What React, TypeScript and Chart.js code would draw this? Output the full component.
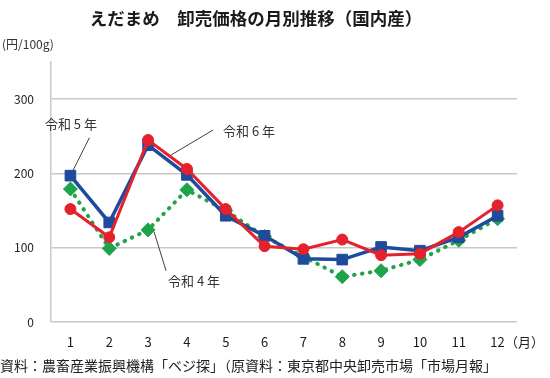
import React, { useEffect, useRef } from "react";
import { Chart, registerables } from "chart.js";

Chart.register(...registerables);

const TITLE = "えだまめ　卸売価格の月別推移（国内産）";
const UNIT = "(円/100g)";
const X_UNIT = "（月）";
const SOURCE = "資料：農畜産業振興機構「ベジ探」（原資料：東京都中央卸売市場「市場月報」";

const months = ["1", "2", "3", "4", "5", "6", "7", "8", "9", "10", "11", "12"];
const r6Label = "令和 6 年";
const r5Label = "令和 5 年";
const r4Label = "令和 4 年";
const r6 = [152, 114, 245, 206, 152, 102, 98, 111, 90, 92, 121, 157];
const r5 = [197, 134, 238, 198, 143, 116, 85, 84, 101, 96, 114, 143];
const r4 = [179, 99, 124, 178, 150, 115, 88, 61, 69, 84, 110, 139];

const FONT = '"Noto Sans CJK JP", "Noto Sans", sans-serif';

const overlay = {
  id: "overlay",
  afterDraw(chart: any) {
    const ctx = chart.ctx;
    const xs = chart.scales.x;
    const ys = chart.scales.y;
    ctx.save();
    ctx.fillStyle = "#1a1a1a";
    ctx.font = `bold 17.5px ${FONT}`;
    ctx.textAlign = "center";
    ctx.textBaseline = "middle";
    ctx.fillText(TITLE, 256, 18);

    ctx.fillStyle = "#333";
    ctx.font = `12px ${FONT}`;
    ctx.textAlign = "left";
    ctx.fillText(UNIT, 2, 44);

    ctx.fillStyle = "#222";
    ctx.font = `13px ${FONT}`;
    ctx.fillText(X_UNIT, 505, 342);

    ctx.font = `14px ${FONT}`;
    ctx.fillText(SOURCE, 0, 366);

    // annotations
    ctx.strokeStyle = "#404040";
    ctx.lineWidth = 1;
    ctx.fillStyle = "#333";
    ctx.font = `13px ${FONT}`;

    // 令和5年 -> month 1 of r5
    let px = xs.getPixelForValue(0);
    let py = ys.getPixelForValue(r5[0]);
    ctx.beginPath();
    ctx.moveTo(px + 2, py - 4);
    ctx.lineTo(px + 19, py - 38);
    ctx.stroke();
    ctx.textAlign = "center";
    ctx.fillText(r5Label, px + 0.5, py - 52);

    // 令和6年 -> segment after month 3 of r6
    px = xs.getPixelForValue(2);
    py = ys.getPixelForValue(r6[2]);
    ctx.beginPath();
    ctx.moveTo(px + 23, py + 15);
    ctx.lineTo(px + 65, py - 10);
    ctx.stroke();
    ctx.textAlign = "left";
    ctx.fillText(r6Label, px + 75, py - 9);

    // 令和4年 -> month 3 of r4
    px = xs.getPixelForValue(2);
    py = ys.getPixelForValue(r4[2]);
    ctx.beginPath();
    ctx.moveTo(px + 6, py + 2);
    ctx.lineTo(px + 18, py + 41);
    ctx.stroke();
    ctx.fillText(r4Label, px + 20, py + 51);

    ctx.restore();
  },
};

export default function App() {
  const ref = useRef<HTMLCanvasElement | null>(null);
  useEffect(() => {
    document.body.style.margin = "0";
    const canvas = ref.current!;
    const chart = new Chart(canvas, {
      type: "line",
      data: {
        labels: months,
        datasets: [
          {
            label: r6Label,
            data: r6,
            borderColor: "#e5212b",
            backgroundColor: "#e5212b",
            borderWidth: 3,
            pointStyle: "circle",
            pointRadius: 5.5,
            pointBorderWidth: 1,
            pointBackgroundColor: "#e5212b",
            pointBorderColor: "#e5212b",
            tension: 0,
          },
          {
            label: r5Label,
            data: r5,
            borderColor: "#1f4b9c",
            backgroundColor: "#1f4b9c",
            borderWidth: 3.5,
            pointStyle: "rect",
            pointRadius: 7.5,
            pointBorderWidth: 1,
            pointBackgroundColor: "#1f4b9c",
            pointBorderColor: "#1f4b9c",
            tension: 0,
          },
          {
            label: r4Label,
            data: r4,
            borderColor: "#1ea34a",
            backgroundColor: "#1ea34a",
            borderWidth: 4,
            borderDash: [0.5, 7.5],
            borderCapStyle: "round",
            pointStyle: "rectRot",
            pointRadius: 7,
            pointBorderWidth: 1,
            pointBackgroundColor: "#1ea34a",
            pointBorderColor: "#1ea34a",
            tension: 0,
          },
        ],
      },
      options: {
        responsive: false,
        animation: false,
        devicePixelRatio: 1,
        layout: { padding: { top: 62, right: 33, left: 0, bottom: 0 } },
        plugins: {
          legend: { display: false },
          tooltip: { enabled: false },
          title: { display: false },
        },
        scales: {
          x: {
            offset: true,
            grid: { display: false, drawTicks: false },
            border: { display: false },
            ticks: {
              color: "#1a1a1a",
              padding: 12,
              maxRotation: 0,
              autoSkip: false,
              font: { family: FONT, size: 13 },
            },
            afterFit: (s: any) => {
              s.height = 56;
            },
          },
          y: {
            min: 0,
            max: 350,
            grid: { color: "#c8c8c8", lineWidth: 1.5, drawTicks: false },
            border: { display: true, color: "#c8c8c8", width: 1.5 },
            ticks: {
              stepSize: 100,
              includeBounds: false,
              color: "#222",
              padding: 17,
              font: { family: FONT, size: 12 },
            },
            afterFit: (s: any) => {
              s.width = 51;
            },
          },
        },
      },
      plugins: [overlay],
    });
    return () => chart.destroy();
  }, []);
  return (
    <div style={{ width: 550, height: 378, background: "#fff" }}>
      <canvas ref={ref} width={550} height={378} style={{ display: "block" }} />
    </div>
  );
}
